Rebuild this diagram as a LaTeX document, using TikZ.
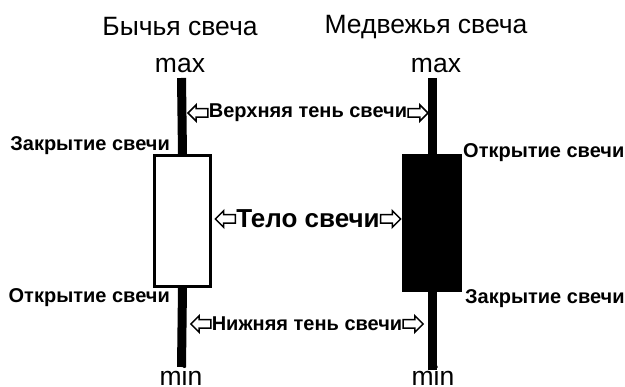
\documentclass[tikz,border=0pt]{standalone}
\usepackage{fontspec}
\setmainfont{Liberation Sans}
\usetikzlibrary{positioning,shapes.arrows}
\tikzset{
	wick/.style={line width=9pt},
	body/.style={draw, line width=3pt, inner sep=0pt},
	lbl/.style={font=\bfseries\fontsize{20}{20}\selectfont, inner sep=0pt},
	part/.style={font=\bfseries\fontsize{20}{20}\selectfont, inner sep=0pt},
	hint/.style={single arrow, draw, line width=1.5pt, fill=white, inner sep=3.5pt,
		minimum height=20pt, single arrow head extend=4pt, single arrow head indent=0pt},
}
\begin{document}
\begin{tikzpicture}[x=1pt, y=-1pt, line join=miter, font=\fontsize{26.5}{26.5}\selectfont]
	\useasboundingbox (0,0) rectangle (625,387);
	\def \bx{181.5}
	\def \rx{432}
	% titles
	\node (bulltitle) at (180,27) {Бычья свеча};
	\node (beartitle) at (426,27) {Медвежья свеча};
	\node (bullmax) at (180,66) {max};
	\node (bearmax) at (436,66) {max};
	\node[anchor=base] (bullmin) at (181,386) {min};
	\node[anchor=base] (bearmin) at (433,386) {min};
	% bull candle
	\coordinate (bulltop) at (\bx,78);
	\coordinate (bullbot) at (\bx,367);
	\node[body, minimum width=56pt, minimum height=131pt] (bullbody) at (182.5,221) {};
	\draw[wick] (bulltop) -- (bullbody.north);
	\draw[wick] (bullbody.south) -- (bullbot);
	% bear candle
	\coordinate (beartop) at (\rx,78);
	\coordinate (bearbot) at (\rx,370);
	\node[body, fill=black, minimum width=57pt, minimum height=135pt] (bearbody) at (\rx,223) {};
	\draw[wick] (beartop) -- (bearbody.north);
	\draw[wick] (bearbody.south) -- (bearbot);
	% open / close
	\node[lbl, anchor=east] (bullclose) at (170,146) {Закрытие свечи};
	\node[lbl, anchor=east] (bullopen) at (170,298) {Открытие свечи};
	\node[lbl, anchor=west] (bearopen) at (463,153) {Открытие свечи};
	\node[lbl, anchor=west] (bearclose) at (465,299) {Закрытие свечи};
	% parts
	\node[part] (upper) at (308,113) {Верхняя тень свечи};
	\node[part, font=\bfseries\fontsize{26}{26}\selectfont] (bodytxt) at (308,219) {Тело свечи};
	\node[part] (lower) at (307,324) {Нижняя тень свечи};
	\foreach \t in {upper,bodytxt,lower}{
		\node[hint, shape border rotate=180, left=0pt of \t] (\t l) {};
		\node[hint, right=0pt of \t] (\t r) {};
	}
\end{tikzpicture}
\end{document}
